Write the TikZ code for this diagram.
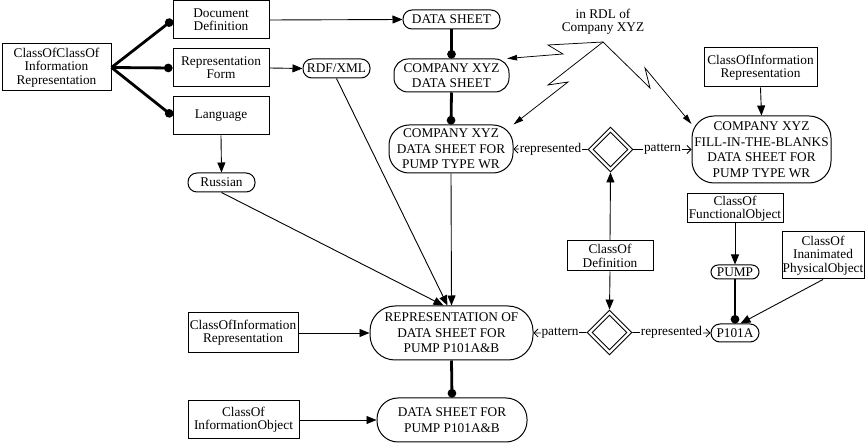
\documentclass[tikz,border=0pt]{standalone}
\usepackage{fontspec}
\setmainfont{Liberation Serif}
\usetikzlibrary{arrows.meta,shapes.geometric}
\begin{document}
\begin{tikzpicture}[x=1pt,y=-1pt,
  every node/.style={inner sep=0pt, align=center, font=\fontsize{13.3}{13.3}\selectfont},
  box/.style 2 args={draw, line width=1pt, minimum width=#1, minimum height=#2},
  pill/.style n args={3}{draw, line width=1pt, rounded corners=#3, minimum width=#1, minimum height=#2, font=\fontsize{13.3}{15.5}\selectfont},
  diam/.style={diamond, draw, line width=0.9pt, minimum width=#1, minimum height=#1, inner sep=0pt},
  arr/.style={line width=0.9pt, -{Triangle[length=10pt,width=8pt]}},
  dotl/.style={line width=2.8pt, -{Circle[length=8.5pt]}},
  opa/.style={line width=0.8pt, -{Straight Barb[length=4pt,width=8pt]}},
  zig/.style={line width=0.75pt, -{Triangle[length=10pt,width=5.5pt]}},
  lbl/.style={fill=white, inner sep=1pt}
]
\useasboundingbox (0,0) rectangle (865,443);

% left column
\node[box={109}{47}] (cc) at (56.5,67.5) {ClassOfClassOf\\Information\\Representation};
\node[box={96}{38}] (dd) at (221,20) {Document\\Definition};
\node[box={96}{38}] (rf) at (221,68) {Representation\\Form};
\node[box={96}{38}] (lang) at (221,116) {Language};
\node[pill={67}{19}{9}] (rus) at (221.5,182.5) {Russian};

% centre column
\node[pill={97}{19}{9}] (ds) at (451.5,19.5) {DATA SHEET};
\node[pill={67}{19}{9}] (rdf) at (336.5,68.5) {RDF/XML};
\node[pill={115}{33}{14}] (cxds) at (451.5,75.5) {COMPANY XYZ\\DATA SHEET};
\node[pill={124}{48}{20}] (cxwr) at (451,149) {COMPANY XYZ\\DATA SHEET FOR\\PUMP TYPE WR};
\node[pill={163}{54}{25}] (rep) at (451.5,333) {REPRESENTATION OF\\DATA SHEET FOR\\PUMP P101A\&B};
\node[pill={150}{44}{21}] (dsp) at (452,420) {DATA SHEET FOR\\PUMP P101A\&B};
\node[box={110}{40}] (coir1) at (243,333) {ClassOfInformation\\Representation};
\node[box={111}{38}] (coio) at (243.5,420) {ClassOf\\InformationObject};

% right part
\node (rdl) at (603,22) {in RDL of\\Company XYZ};
\coordinate (rdlpt) at (603,42);
\node[box={113}{39}] (coir2) at (760.5,67.5) {ClassOfInformation\\Representation};
\node[pill={139}{67}{22}] (fill) at (761.5,149.5) {COMPANY XYZ\\FILL-IN-THE-BLANKS\\DATA SHEET FOR\\PUMP TYPE WR};
\node[diam=45pt] (d1) at (610.5,149.5) {};
\node[diam=35pt] (d1i) at (d1) {};
\node[box={86}{30}] (cod) at (610,256) {ClassOf\\Definition};
\node[diam=45pt] (d2) at (609.5,332.5) {};
\node[diam=35pt] (d2i) at (d2) {};
\node[pill={48}{18}{9}] (p101) at (735,333) {P101A};
\node[pill={48}{14}{7}] (pump) at (735,272) {PUMP};
\node[box={96}{29}] (cofo) at (735,208.5) {ClassOf\\FunctionalObject};
\node[box={82}{47}] (coipo) at (823,255.5) {ClassOf\\Inanimated\\PhysicalObject};

% connectors, left
\draw[dotl] (cc.east) -- (dd.west);
\draw[dotl] (cc.east) -- (rf.west);
\draw[dotl] (cc.east) -- (lang.west);
\draw[arr] (lang.south) -- (rus.north);
\draw[arr] (dd.east) -- (ds.west);
\draw[arr] (rf.east) -- (rdf.west);

% centre
\draw[dotl] (ds.south) -- (cxds.north);
\draw[dotl] (cxds.south) -- (cxwr.north);
\draw[arr] (cxwr.south) -- (rep.north);
\draw[arr] (rus.south) -- ([xshift=-8pt]rep.north);
\draw[arr] (rdf.south) -- ([xshift=-4pt]rep.north);
\draw[arr] (coir1.east) -- (rep.west);
\draw[arr] (coio.east) -- (dsp.west);
\draw[dotl] (rep.south) -- (dsp.north);

% zigzags
\draw[zig] (rdlpt) -- (548,45) -- (563,54) -- (cxds.17);
\draw[zig] (rdlpt) -- (548,85) -- (568,82) -- (cxwr.north east);
\draw[zig] (rdlpt) -- (650,88) -- (645,68) -- (fill.160);

% right
\draw[arr] (coir2.south) -- (fill.north);
\draw[opa] (d1.west) -- node[lbl] (lr1) {represented} (cxwr.east);
\draw[opa] (d1.east) -- node[lbl] (lp1) {pattern} (fill.west);
\draw[arr] (cod.north) -- (d1.south);
\draw[arr] (cod.south) -- (d2.north);
\draw[opa] (d2.west) -- node[lbl] (lp2) {pattern} (rep.east);
\draw[opa] (d2.east) -- node[lbl] (lr2) {represented} (p101.west);
\draw[arr] (cofo.south) -- (pump.north);
\draw[dotl] (pump.south) -- (p101.north);
\draw[arr] (coipo.south) -- (p101.60);
\end{tikzpicture}
\end{document}
